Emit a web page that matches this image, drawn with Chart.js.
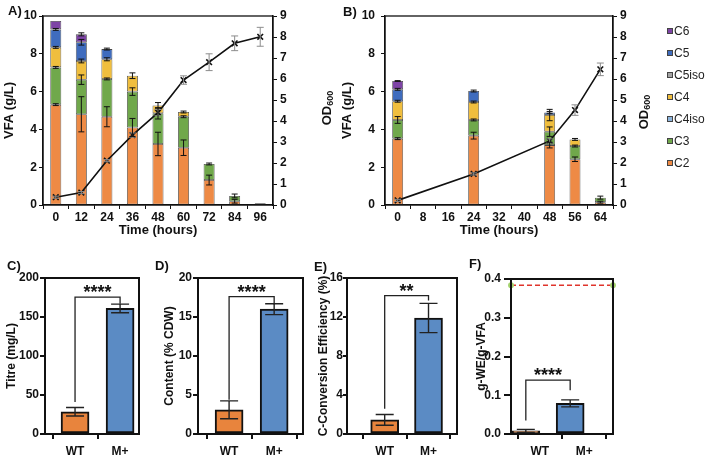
<!DOCTYPE html>
<html><head><meta charset="utf-8">
<script src="https://cdn.jsdelivr.net/npm/chart.js@4.4.1/dist/chart.umd.min.js"></script>
<style>
html,body{margin:0;padding:0;background:#fff;}
#wrap{position:relative;width:709px;height:456px;overflow:hidden;background:#fff;font-family:"Liberation Sans",Arial,sans-serif;}
canvas{position:absolute;}
.pl{position:absolute;font-weight:bold;font-size:13px;line-height:13px;color:#111;}
#legend{position:absolute;left:667px;top:20px;font-size:12px;color:#222;}
.li{height:22px;display:flex;align-items:center;white-space:nowrap;}
.sw{width:4px;height:4px;border:1px solid #444;margin-right:1px;}
</style></head><body>
<div id="wrap">
<canvas id="cA" width="335" height="245" style="left:0;top:0;width:335px;height:245px"></canvas>
<canvas id="cB" width="374" height="245" style="left:335px;top:0;width:374px;height:245px"></canvas>
<canvas id="cC" width="160" height="206" style="left:0;top:250px;width:160px;height:206px"></canvas>
<canvas id="cD" width="150" height="206" style="left:160px;top:250px;width:150px;height:206px"></canvas>
<canvas id="cE" width="160" height="206" style="left:310px;top:250px;width:160px;height:206px"></canvas>
<canvas id="cF" width="150" height="206" style="left:470px;top:250px;width:150px;height:206px"></canvas>
<div class="pl" style="left:8px;top:4px">A)</div>
<div class="pl" style="left:343px;top:5px">B)</div>
<div class="pl" style="left:7px;top:259px">C)</div>
<div class="pl" style="left:155px;top:259px">D)</div>
<div class="pl" style="left:314px;top:260px">E)</div>
<div class="pl" style="left:469px;top:257px">F)</div>
<div id="legend"></div>
</div>
<script>
// ---------- DATA ----------
const seriesNames = ['C2','C3','C4iso','C4','C5iso','C5','C6'];

const timeA = ['0','12','24','36','48','60','72','84','96'];
const aC2    = [5.31,4.80,4.67,4.10,3.23,3.03,1.32,0.20,0.06];
const aC3    = [1.97,1.83,2.00,1.90,1.62,1.64,0.85,0.28,0.05];
const aC4iso = [null,null,null,null,null,null,null,null,null];
const aC4    = [1.06,0.99,1.04,0.84,0.42,0.25,null,null,null];
const aC5iso = [null,null,null,null,null,null,null,null,null];
const aC5    = [0.95,0.99,0.54,null,null,null,null,null,null];
const aC6    = [0.45,0.42,null,null,null,null,null,null,null];
const aC2err = [0.05,0.93,0.53,0.48,0.62,0.41,0.26,0.10,null];
const aC3err = [0.05,0.25,0.05,0.20,0.30,0.05,0.05,0.10,null];
const aC4err = [0.05,0.10,0.08,0.15,0.15,0.05,null,null,null];
const aC5err = [0.05,0.15,0.05,null,null,null,null,null,null];
const aC6err = [null,0.08,null,null,null,null,null,null,null];
const odA    = [0.37,0.59,2.11,3.33,4.40,5.95,6.80,7.70,8.01];
const odAerr = [0.05,0.05,0.05,0.10,0.15,0.20,0.40,0.35,0.45];

const timeB = ['0','8','16','24','32','40','48','56','64'];
const bC2    = [3.51,null,null,3.67,null,null,3.17,2.42,0.15];
const bC3    = [0.99,null,null,0.83,null,null,0.71,0.70,0.24];
const bC4iso = [null,null,null,null,null,null,null,null,null];
const bC4    = [0.99,null,null,0.95,null,null,0.88,0.35,null];
const bC5iso = [null,null,null,null,null,null,null,null,null];
const bC5    = [0.63,null,null,0.58,null,null,0.14,null,null];
const bC6    = [0.44,null,null,null,null,null,null,null,null];
const bC2err = [0.05,null,null,0.18,null,null,0.15,0.12,0.05];
const bC3err = [0.18,null,null,0.05,null,null,0.25,0.05,0.08];
const bC4err = [0.05,null,null,0.05,null,null,0.30,0.05,null];
const bC5err = [0.05,null,null,0.05,null,null,0.05,null,null];
const bC6err = [0.02,null,null,null,null,null,null,null,null];
const odB    = [0.22,null,null,1.48,null,null,3.05,4.52,6.46];
const odBerr = [0.05,null,null,0.05,null,null,0.10,0.25,0.30];

const groups = ['WT','M+'];
const titre = [28.5,161];      const titreErr = [5.5,5.5];
const content = [3.1,16.0];    const contentErr = [1.15,0.7];
const conversion = [1.45,11.9]; const conversionErr = [0.55,1.5];
const yieldWE = [0.008,0.079];  const yieldWEErr = [0.004,0.009];
const theoreticalYield = 0.384;
// significance: [bracket level, WT leg end, M+ leg end]
const sigC = [175.6,41,167];   const sigCLabel = '****';
const sigD = [17.6,4.4,16.6];  const sigDLabel = '****';
const sigE = [14.2,2.6,13.7];  const sigELabel = '**';
const sigF = [0.139,0.035,0.113]; const sigFLabel = '****';

// ---------- STYLE ----------
const seriesColors = ['#EE8A45','#70A84B','#8DB4DC','#F0BE3E','#A3A3A3','#3F6CBE','#7E44A6'];
const barColors = ['#E8843D','#5B8BC4'];
const FONT = '"Liberation Sans", Arial, sans-serif';
Chart.defaults.font.family = FONT;
Chart.defaults.color = '#111';
Chart.defaults.animation = false;
Chart.defaults.plugins.legend.display = false;
Chart.defaults.plugins.tooltip.enabled = false;

// ---------- PLUGINS ----------
const errorBars = {
  id:'errorBars',
  afterDatasetsDraw(chart, args, opts){
    const ctx = chart.ctx; const cum = [];
    chart.data.datasets.forEach((ds,i)=>{
      const meta = chart.getDatasetMeta(i);
      const ys = chart.scales[meta.yAxisID];
      const stackIt = ds.type !== 'line' && opts.stacked;
      ds.data.forEach((raw,j)=>{
        const v = (raw!==null && typeof raw==='object') ? raw.y : raw;
        let base = 0;
        if (stackIt){ base = cum[j]||0; if (v!=null) cum[j] = base+v; }
        if (v==null || !ds.errors || ds.errors[j]==null) return;
        const el = meta.data[j]; if (!el) return;
        const top = base+v, e = ds.errors[j];
        const x = el.x, yHi = ys.getPixelForValue(top+e), yLo = ys.getPixelForValue(top-e);
        const w = ds.errCap || opts.cap || 6;
        ctx.save();
        ctx.strokeStyle = ds.errColor || opts.color || '#111';
        ctx.lineWidth = ds.errWidth || opts.width || 1;
        ctx.beginPath();
        ctx.moveTo(x,yHi); ctx.lineTo(x,yLo);
        ctx.moveTo(x-w/2,yHi); ctx.lineTo(x+w/2,yHi);
        ctx.moveTo(x-w/2,yLo); ctx.lineTo(x+w/2,yLo);
        ctx.stroke(); ctx.restore();
      });
    });
  }
};
const frame = {
  id:'frame',
  afterDraw(chart, args, opts){
    const a = chart.chartArea, ctx = chart.ctx;
    ctx.save(); ctx.strokeStyle = '#111'; ctx.lineWidth = opts.lineWidth || 1.2;
    ctx.strokeRect(a.left, a.top, a.right-a.left, a.bottom-a.top); ctx.restore();
  }
};
const odTitle = {
  id:'odTitle',
  afterDraw(chart, args, o){
    if (!o || o.x==null) return;
    const ctx = chart.ctx; ctx.save();
    ctx.translate(o.x, o.y); ctx.rotate(-Math.PI/2);
    ctx.fillStyle = '#111'; ctx.textBaseline = 'middle'; ctx.textAlign = 'left';
    ctx.font = 'bold 13px ' + FONT; const w1 = ctx.measureText('OD').width;
    ctx.font = 'bold 9px ' + FONT; const w2 = ctx.measureText('600').width;
    const s = -(w1+w2)/2;
    ctx.font = 'bold 13px ' + FONT; ctx.fillText('OD', s, 0);
    ctx.font = 'bold 9px ' + FONT; ctx.fillText('600', s+w1, 4);
    ctx.restore();
  }
};
const sig = {
  id:'sig',
  afterDatasetsDraw(chart, args, o){
    if (!o || !o.levels) return;
    const ctx = chart.ctx, meta = chart.getDatasetMeta(0), ys = chart.scales.y;
    const x1 = meta.data[0].x, x2 = meta.data[1].x;
    const yT = ys.getPixelForValue(o.levels[0]);
    ctx.save(); ctx.strokeStyle = '#222'; ctx.lineWidth = 1.3;
    ctx.beginPath();
    ctx.moveTo(x1, ys.getPixelForValue(o.levels[1])); ctx.lineTo(x1, yT);
    ctx.lineTo(x2, yT); ctx.lineTo(x2, ys.getPixelForValue(o.levels[2]));
    ctx.stroke();
    ctx.fillStyle = '#111'; ctx.font = 'bold 18px ' + FONT;
    ctx.textAlign = 'center'; ctx.textBaseline = 'alphabetic';
    ctx.fillText(o.label, (x1+x2)/2, yT + 1);
    ctx.restore();
  }
};

// ---------- VFA CHARTS ----------
function vfaChart(id, labels, stacks, errs, od, odErr, g){
  const tickFont = {weight:'bold', size:12};
  const bars = stacks.map((d,i)=>({
    type:'bar', label:seriesNames[i], data:d, errors:errs[i], yAxisID:'y', order:1,
    backgroundColor:seriesColors[i], borderColor:'#474747', borderWidth:0.8, borderSkipped:false,
    barPercentage:0.43, categoryPercentage:1, errCap:6, errColor:'#111', errWidth:1
  }));
  return new Chart(document.getElementById(id), {
    type:'bar',
    data:{labels, datasets:[
      {type:'line', label:'OD600', data:od, errors:odErr, yAxisID:'y2', order:0,
       borderColor:'#111', borderWidth:1.6, pointStyle:'crossRot', pointRadius:4,
       pointBorderWidth:1.6, pointBorderColor:'#111', pointBackgroundColor:'#111',
       spanGaps:true, tension:0, errColor:'#8c8c8c', errCap:7, errWidth:1},
      ...bars]},
    options:{
      responsive:false,
      layout:{padding:{top:16,left:0,right:0,bottom:0}},
      scales:{
        x:{stacked:true, offset:true,
           grid:{offset:true, drawOnChartArea:false, drawTicks:true, tickLength:4, color:'#111', lineWidth:1},
           border:{color:'#111', width:1.3},
           ticks:{font:tickFont, padding:1, color:'#111', maxRotation:0, autoSkip:false},
           title:{display:true, text:'Time (hours)', font:{weight:'bold', size:13}, color:'#111', padding:{top:0,bottom:7}},
           afterFit:s=>{s.height=40;}},
        y:{stacked:true, position:'left', min:0, max:10,
           ticks:{stepSize:2, font:tickFont, padding:g.tickPad, color:'#111'},
           grid:{drawOnChartArea:false, tickLength:4, color:'#111'},
           border:{color:'#111', width:1.3},
           title:{display:true, text:'VFA (g/L)', font:{weight:'bold', size:13}, color:'#111', padding:{top:g.titlePad,bottom:0}},
           afterFit:s=>{s.width=g.leftW;}},
        y2:{position:'right', min:0, max:9,
           ticks:{stepSize:1, font:tickFont, padding:3, color:'#111'},
           grid:{drawOnChartArea:false, tickLength:4, color:'#111'},
           border:{color:'#111', width:1.3},
           afterFit:s=>{s.width=g.rightW;}}
      },
      plugins:{errorBars:{stacked:true}, frame:{lineWidth:1.3}, odTitle:{x:g.odX, y:g.odY}}
    },
    plugins:[errorBars, frame, odTitle]
  });
}
vfaChart('cA', timeA, [aC2,aC3,aC4iso,aC4,aC5iso,aC5,aC6], [aC2err,aC3err,null,aC4err,null,aC5err,aC6err],
         odA, odAerr, {leftW:43, rightW:62, tickPad:2, titlePad:2, odX:327, odY:108});
vfaChart('cB', timeB, [bC2,bC3,bC4iso,bC4,bC5iso,bC5,bC6], [bC2err,bC3err,null,bC4err,null,bC5err,bC6err],
         odB, odBerr, {leftW:50, rightW:96, tickPad:6, titlePad:5, odX:309, odY:112});

// legend (built from series names/colours)
const lg = document.getElementById('legend');
for (let i = seriesNames.length-1; i >= 0; i--){
  const row = document.createElement('div'); row.className = 'li';
  const sw = document.createElement('span'); sw.className = 'sw'; sw.style.background = seriesColors[i];
  const t = document.createElement('span'); t.textContent = seriesNames[i];
  row.appendChild(sw); row.appendChild(t); lg.appendChild(row);
}

// ---------- SMALL BAR CHARTS ----------
function smallChart(id, vals, errs, g){
  const tickFont = {weight:'bold', size:12};
  const datasets = [{
    type:'bar', data:vals.map((v,i)=>({x:i, y:v})), errors:errs,
    backgroundColor:barColors, borderColor:'#111', borderWidth:2, borderSkipped:false,
    barThickness:28, errCap:18, errColor:'#222', errWidth:1.4
  }];
  const scales = {
    x:{type:'linear', min:g.xMin, max:g.xMax, offset:false,
       afterBuildTicks:s=>{s.ticks = groups.map((_,i)=>({value:i}));},
       ticks:{callback:v=>groups[v], font:{weight:'bold', size:12}, padding:5, color:'#111', autoSkip:false, maxRotation:0},
       grid:{drawOnChartArea:false, tickLength:5, color:'#111', lineWidth:2},
       border:{color:'#111', width:2},
       afterFit:s=>{s.height=22;}},
    y:{min:0, max:g.yMax,
       ticks:{stepSize:g.step, font:tickFont, padding:g.tickPad, color:'#111',
              callback:v=>g.dec ? v.toFixed(g.dec) : v},
       grid:{drawOnChartArea:false, tickLength:g.tickLen, color:'#111', lineWidth:2},
       border:{color:'#111', width:2},
       title:{display:true, text:g.title, font:{weight:'bold', size:12}, color:'#111', padding:{top:g.titlePad,bottom:0}},
       afterFit:s=>{s.width=g.leftW;}}
  };
  if (g.refLine != null){
    datasets.push({type:'line', data:[{x:0,y:g.refLine},{x:1,y:g.refLine}], xAxisID:'x2',
      borderColor:'#E0352C', borderWidth:1.5, borderDash:[5,3], pointRadius:2.2,
      pointBackgroundColor:'#A5D36F', pointBorderColor:'#A5D36F', clip:false, order:-1});
    scales.x2 = {type:'linear', min:0, max:1, display:false, offset:false, grid:{offset:false}};
  }
  return new Chart(document.getElementById(id), {
    type:'bar',
    data:{datasets},
    options:{responsive:false,
      layout:{padding:{top:g.top, left:0, right:g.rightPad, bottom:0}},
      scales,
      plugins:{errorBars:{stacked:false}, frame:{lineWidth:2}, sig:{levels:g.sig, label:g.sigLabel}}
    },
    plugins:[errorBars, frame, sig]
  });
}
smallChart('cC', titre, titreErr, {xMin:-0.667, xMax:1.42, yMax:200, step:50, title:'Titre (mg/L)',
  leftW:45, rightPad:21, top:28, titlePad:4, tickPad:1, tickLen:5, sig:sigC, sigLabel:sigCLabel});
smallChart('cD', content, contentErr, {xMin:-0.69, xMax:1.64, yMax:20, step:5, title:'Content (% CDW)',
  leftW:38, rightPad:7, top:28, titlePad:2, tickPad:1, tickLen:5, sig:sigD, sigLabel:sigDLabel});
smallChart('cE', conversion, conversionErr, {xMin:-0.86, xMax:1.65, yMax:16, step:4, title:'C-Conversion Efficiency (%)',
  leftW:37, rightPad:13, top:28, titlePad:6, tickPad:0, tickLen:4, sig:sigE, sigLabel:sigELabel});
smallChart('cF', yieldWE, yieldWEErr, {xMin:-0.65, xMax:1.65, yMax:0.4, step:0.1, dec:1, title:'g-WE/g-VFA',
  leftW:41, rightPad:7, top:29, titlePad:4, tickPad:3, tickLen:7, sig:sigF, sigLabel:sigFLabel, refLine:theoreticalYield});
</script>
</body></html>
